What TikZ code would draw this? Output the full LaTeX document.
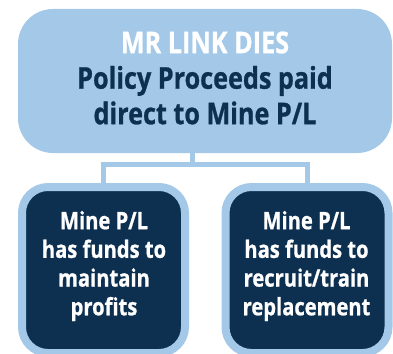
\documentclass[tikz,border=0pt]{standalone}
\usepackage{fontspec}
\newfontfamily\cf[FakeStretch=0.84, FakeBold=0.8]{Open Sans}
\definecolor{lightblue}{RGB}{163,200,232}
\definecolor{navy}{RGB}{13,48,80}
\begin{document}
\begin{tikzpicture}[x=1pt,y=-1pt,
  topbox/.style={fill=lightblue, rounded corners=35pt, minimum width=374pt, minimum height=144pt, inner sep=0pt},
  botbox/.style={fill=navy, draw=lightblue, line width=8pt, rounded corners=26pt, minimum width=163pt, minimum height=166pt, inner sep=0pt},
  toptext/.style={align=center, inner sep=0pt, font=\cf\bfseries\fontsize{30}{35.5}\selectfont, text=navy},
  bottext/.style={align=center, inner sep=0pt, font=\cf\bfseries\fontsize{24}{28.7}\selectfont, text=white},
  link/.style={draw=lightblue, line width=5pt}]
\useasboundingbox (0,0) rectangle (393,353);
\node[topbox] (top) at (205,81) {};
\node[toptext] (toptxt) at (205,78) {\textcolor{white}{MR LINK DIES}\\Policy Proceeds paid\\direct to Mine P/L};
\node[botbox] (l) at (103.5,270) {};
\node[botbox] (r) at (307,270) {};
\node[bottext] (ltxt) at (104,266) {Mine P/L\\has funds to\\maintain\\profits};
\node[bottext] (rtxt) at (306.5,266) {Mine P/L\\has funds to\\recruit/train\\replacement};
\coordinate (stem) at (192.5,164.5);
\draw[link] (top.south -| stem) -- (stem);
\draw[link] (l.north) |- (stem) -| (r.north);
\end{tikzpicture}
\end{document}
